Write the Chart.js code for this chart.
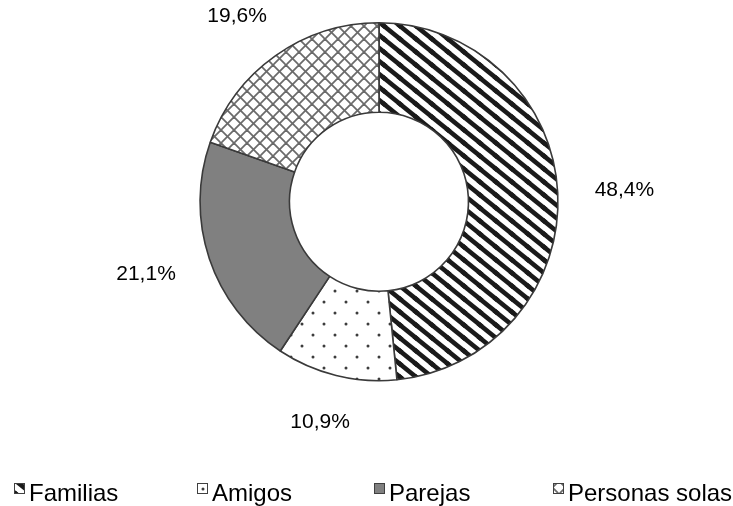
<!DOCTYPE html>
<html>
<head>
<meta charset="utf-8">
<script src="https://cdn.jsdelivr.net/npm/chart.js@4.4.0/dist/chart.umd.min.js"></script>
<style>
  html, body { margin: 0; padding: 0; background: #ffffff; }
  #wrap { position: relative; width: 733px; height: 506px; }
</style>
</head>
<body>
<div id="wrap"><canvas id="c" width="733" height="506"></canvas></div>
<script>
// ---- data ----
const categories = ['Familias', 'Amigos', 'Parejas', 'Personas solas'];
const shares = [48.4, 10.9, 21.1, 19.6];
const shareLabels = shares.map(v => v.toFixed(1).replace('.', ',') + '%');

// ---- patterns ----
function makeTile(w, h, draw) {
  const t = document.createElement('canvas');
  t.width = w; t.height = h;
  const g = t.getContext('2d');
  g.fillStyle = '#ffffff';
  g.fillRect(0, 0, w, h);
  draw(g, w, h);
  return t;
}
const ctx0 = document.getElementById('c').getContext('2d');

const stripeTile = makeTile(16, 13, (g, w, h) => {
  g.strokeStyle = '#1a1a1a';
  g.lineWidth = 4.5;
  for (const [dx, dy] of [[0,0],[-w,0],[w,0],[0,-h],[0,h]]) {
    g.beginPath();
    g.moveTo(dx - w, dy - h);
    g.lineTo(dx + 2 * w, dy + 2 * h);
    g.stroke();
  }
});
const dotTile = makeTile(22, 22, (g) => {
  g.fillStyle = '#3c3c3c';
  for (const [x, y] of [[5, 5], [16, 16]]) {
    g.beginPath(); g.arc(x, y, 1.5, 0, Math.PI * 2); g.fill();
  }
});
const hatchTile = makeTile(13, 13, (g, w, h) => {
  g.strokeStyle = '#6a6a6a';
  g.lineWidth = 1.8;
  g.beginPath(); g.moveTo(-1, -1); g.lineTo(w + 1, h + 1); g.stroke();
  g.beginPath(); g.moveTo(w + 1, -1); g.lineTo(-1, h + 1); g.stroke();
});

const fills = [
  ctx0.createPattern(stripeTile, 'repeat'),
  ctx0.createPattern(dotTile, 'repeat'),
  '#808080',
  ctx0.createPattern(hatchTile, 'repeat')
];

// ---- plugins ----
const outsideLabels = {
  id: 'outsideLabels',
  afterDatasetsDraw(chart) {
    const ctx = chart.ctx;
    const meta = chart.getDatasetMeta(0);
    ctx.save();
    ctx.font = '21px "Liberation Sans", Arial, sans-serif';
    ctx.fillStyle = '#000000';
    ctx.textAlign = 'center';
    ctx.textBaseline = 'middle';
    const gap = 37, hh = 11;
    meta.data.forEach((arc, i) => {
      const p = arc.getProps(['x', 'y', 'startAngle', 'endAngle', 'outerRadius'], true);
      const mid = (p.startAngle + p.endAngle) / 2;
      const ux = Math.cos(mid), uy = Math.sin(mid);
      const txt = shareLabels[i];
      const hw = ctx.measureText(txt).width / 2;
      const lx = p.x + ux * (p.outerRadius + gap) + ux * hw;
      const ly = p.y + uy * (p.outerRadius + gap) + uy * hh;
      ctx.fillText(txt, lx, ly);
    });
    ctx.restore();
  }
};

const fixedLegend = {
  id: 'fixedLegend',
  afterDraw(chart) {
    const ctx = chart.ctx;
    const boxX = [14, 197, 374, 553];
    const boxY = 483, box = 11;
    ctx.save();
    ctx.font = '24px "Liberation Sans", Arial, sans-serif';
    ctx.textBaseline = 'alphabetic';
    ctx.textAlign = 'left';
    categories.forEach((name, i) => {
      const x = boxX[i];
      ctx.fillStyle = fills[i];
      ctx.fillRect(x, boxY, box, box);
      ctx.strokeStyle = '#404040';
      ctx.lineWidth = 1;
      ctx.strokeRect(x + 0.5, boxY + 0.5, box - 1, box - 1);
      ctx.fillStyle = '#000000';
      ctx.fillText(name, x + 15, 501);
    });
    ctx.restore();
  }
};

new Chart(document.getElementById('c'), {
  type: 'doughnut',
  data: {
    labels: categories,
    datasets: [{
      data: shares,
      backgroundColor: fills,
      borderColor: '#3a3a3a',
      borderWidth: 1.6,
      borderAlign: 'center'
    }]
  },
  options: {
    responsive: false,
    animation: false,
    events: [],
    cutout: '50%',
    layout: { padding: { left: 199, right: 174, top: 22, bottom: 124.5 } },
    plugins: {
      legend: { display: false },
      tooltip: { enabled: false },
      title: { display: false }
    }
  },
  plugins: [outsideLabels, fixedLegend]
});
</script>
</body>
</html>
